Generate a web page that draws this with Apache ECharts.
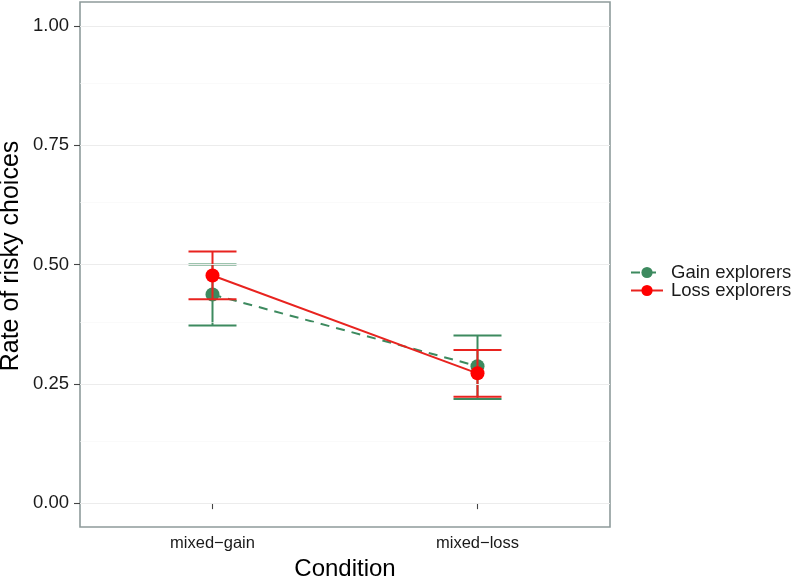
<!DOCTYPE html>
<html><head><meta charset="utf-8">
<script src="https://cdn.jsdelivr.net/npm/echarts@6/dist/echarts.min.js"></script>
<style>html,body{margin:0;padding:0;background:#fff}#c{width:799px;height:576px}</style>
</head><body><div id="c"></div>
<script>
var categories = ['mixed-gain', 'mixed-loss'];
var gainMean = [0.437, 0.287];
var gainLow = [0.372, 0.218];
var gainHigh = [0.500, 0.351];
var lossMean = [0.477, 0.272];
var lossLow = [0.427, 0.223];
var lossHigh = [0.527, 0.321];
var yTicks = [0, 0.25, 0.5, 0.75, 1];
var yMinor = [0.125, 0.375, 0.625, 0.875];
var yTitle = 'Rate of risky choices';
var xTitle = 'Condition';

var GREEN = '#3d8a5f', RED = '#e8231f', REDPT = '#ff0000';
var FONT = 'Liberation Sans, Arial, sans-serif';

function errData(lo, hi) {
  return categories.map(function (c, i) { return [i, lo[i], hi[i]]; });
}
function errRender(color) {
  return function (params, api) {
    var x = api.value(0);
    var lo = api.coord([x, api.value(1)]);
    var hi = api.coord([x, api.value(2)]);
    var hw = 24;
    var st = { stroke: color, lineWidth: 2 };
    return { type: 'group', children: [
      { type: 'line', shape: { x1: lo[0], y1: lo[1], x2: hi[0], y2: hi[1] }, style: st },
      { type: 'line', shape: { x1: lo[0] - hw, y1: lo[1], x2: lo[0] + hw, y2: lo[1] }, style: st },
      { type: 'line', shape: { x1: hi[0] - hw, y1: hi[1], x2: hi[0] + hw, y2: hi[1] }, style: st }
    ]};
  };
}

var gridLines = yTicks.map(function (v) { return { yAxis: v, lineStyle: { color: '#ececec', width: 1.1, type: 'solid' } }; })
  .concat(yMinor.map(function (v) { return { yAxis: v, lineStyle: { color: '#f6f6f6', width: 0.6, type: 'solid' } }; }));

var chart = echarts.init(document.getElementById('c'));
chart.setOption({
  animation: false,
  backgroundColor: '#fff',
  textStyle: { fontFamily: FONT },
  grid: { left: 80, right: 189, top: 2, bottom: 49, show: true, borderColor: '#8e9b9b', borderWidth: 1.6,
    backgroundColor: '#fff', outerBoundsMode: 'none', containLabel: false },
  graphic: [{
    type: 'text', x: 11, y: 256, rotation: Math.PI / 2,
    style: { text: yTitle, fontFamily: FONT, fontSize: 25, fill: '#000', align: 'center', verticalAlign: 'middle' }
  }],
  legend: {
    orient: 'vertical', left: 630, top: 263, itemGap: -1, padding: 0,
    itemWidth: 32, itemHeight: 14,
    data: ['Gain explorers', 'Loss explorers'],
    textStyle: { fontFamily: FONT, fontSize: 18.5, color: '#1a1a1a', padding: [0, 0, 0, 3] }
  },
  xAxis: {
    type: 'category', data: categories, boundaryGap: true,
    name: xTitle, nameLocation: 'middle', nameGap: 29,
    nameTextStyle: { fontFamily: FONT, fontSize: 24, color: '#000' },
    axisLine: { show: false },
    axisTick: { show: true, alignWithLabel: true, length: 6, lineStyle: { color: '#444', width: 1.1 } },
    axisLabel: { fontFamily: FONT, fontSize: 16.5, color: '#1a1a1a', margin: 8,
      formatter: function (v) { return v.replace('-', '\u2212'); } },
    splitLine: { show: false }
  },
  yAxis: {
    type: 'value', min: -0.05, max: 1.05,
    axisLine: { show: false },
    axisTick: { show: true, length: 6, customValues: yTicks, lineStyle: { color: '#444', width: 1.1 } },
    axisLabel: { fontFamily: FONT, fontSize: 18.5, color: '#1a1a1a', margin: 11, customValues: yTicks,
      formatter: function (v) { return v.toFixed(2); } },
    splitLine: { show: false }
  },
  series: [
    { name: 'grid', type: 'line', data: [], silent: true, z: 0,
      markLine: { silent: true, symbol: 'none', label: { show: false }, data: gridLines, animation: false } },
    { name: 'gainErr', type: 'custom', renderItem: errRender(GREEN), data: errData(gainLow, gainHigh), z: 2 },
    { name: 'Gain explorers', type: 'line', data: gainMean, z: 3,
      symbol: 'circle', symbolSize: 14,
      itemStyle: { color: GREEN },
      lineStyle: { color: GREEN, width: 2, type: [9, 7] } },
    { name: 'lossErr', type: 'custom', renderItem: errRender(RED), data: errData(lossLow, lossHigh), z: 4 },
    { name: 'Loss explorers', type: 'line', data: lossMean, z: 5,
      symbol: 'circle', symbolSize: 14,
      itemStyle: { color: REDPT },
      lineStyle: { color: RED, width: 2 } }
  ]
});
</script></body></html>
